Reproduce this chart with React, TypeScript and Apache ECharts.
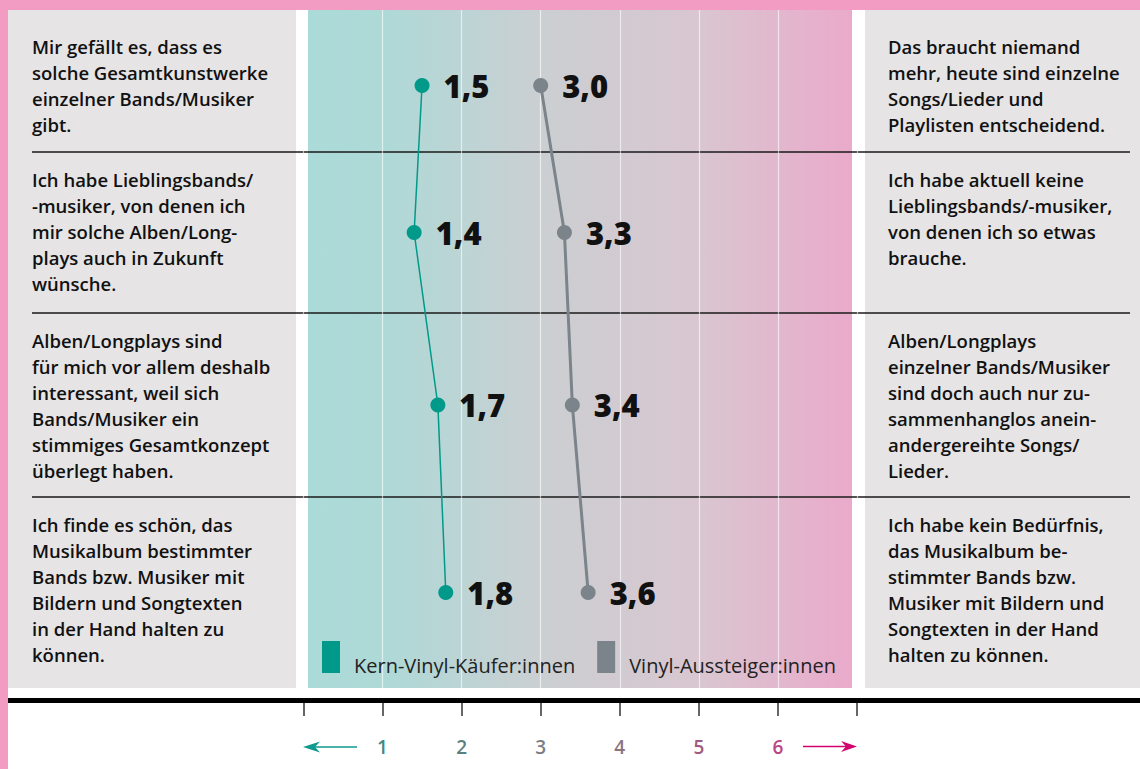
import React, { useEffect, useRef } from "react";
import * as echarts from "echarts";

// ---- Data ----
const leftStatements = [
  "Mir gefällt es, dass es\nsolche Gesamtkunstwerke\neinzelner Bands/Musiker\ngibt.",
  "Ich habe Lieblingsbands/\n-musiker, von denen ich\nmir solche Alben/Long-\nplays auch in Zukunft\nwünsche.",
  "Alben/Longplays sind\nfür mich vor allem deshalb\ninteressant, weil sich\nBands/Musiker ein\nstimmiges Gesamtkonzept\nüberlegt haben.",
  "Ich finde es schön, das\nMusikalbum bestimmter\nBands bzw. Musiker mit\nBildern und Songtexten\nin der Hand halten zu\nkönnen.",
];
const rightStatements = [
  "Das braucht niemand\nmehr, heute sind einzelne\nSongs/Lieder und\nPlaylisten entscheidend.",
  "Ich habe aktuell keine\nLieblingsbands/-musiker,\nvon denen ich so etwas\nbrauche.",
  "Alben/Longplays\neinzelner Bands/Musiker\nsind doch auch nur zu-\nsammenhanglos anein-\nandergereihte Songs/\nLieder.",
  "Ich habe kein Bedürfnis,\ndas Musikalbum be-\nstimmter Bands bzw.\nMusiker mit Bildern und\nSongtexten in der Hand\nhalten zu können.",
];
const seriesNames = ["Kern-Vinyl-Käufer:innen", "Vinyl-Aussteiger:innen"];
const kernValues = [1.5, 1.4, 1.7, 1.8];
const aussteigerValues = [3.0, 3.3, 3.4, 3.6];
const tickLabels = ["", "1", "2", "3", "4", "5", "6", ""];
const tickColors = ["#3d8a85", "#5b7f80", "#7a7e84", "#8b7382", "#a25a7f", "#ba4784"];

// ---- Layout (pixels) ----
const W = 1140;
const H = 769;
const ROW_BOUNDS = [19, 152, 313, 497, 688];
const PANEL_TOP = 10;
const PANEL_BOTTOM = 688;
const AXIS_LEFT = 303.4;
const AXIS_RIGHT = 857.1;
const FONT = "'Open Sans', 'Noto Sans', sans-serif";

export default function App() {
  const ref = useRef<HTMLDivElement>(null);

  useEffect(() => {
    document.body.style.margin = "0";
    if (!ref.current) return;
    const chart = echarts.init(ref.current, null, { renderer: "svg" });

    const rowCenters = ROW_BOUNDS.slice(0, -1).map((b, i) => (b + ROW_BOUNDS[i + 1]) / 2);
    const fmt = (v: number) => v.toFixed(1).replace(".", ",");

    const textStyle = (t: string) => ({
      text: t,
      font: `600 18.5px ${FONT}`,
      lineHeight: 26,
      fill: "#111",
      textVerticalAlign: "top",
    });

    const graphics: any[] = [
      { type: "rect", shape: { x: 0, y: 0, width: W, height: 10 }, style: { fill: "#f39cc3" }, z: -10 },
      { type: "rect", shape: { x: 0, y: 0, width: 8, height: H }, style: { fill: "#f39cc3" }, z: -10 },
      { type: "rect", shape: { x: 8, y: PANEL_TOP, width: 288, height: PANEL_BOTTOM - PANEL_TOP }, style: { fill: "#e6e4e5" }, z: -10 },
      { type: "rect", shape: { x: 865, y: PANEL_TOP, width: W - 865, height: PANEL_BOTTOM - PANEL_TOP }, style: { fill: "#e6e4e5" }, z: -10 },
      {
        type: "rect",
        shape: { x: 308, y: PANEL_TOP, width: 544, height: PANEL_BOTTOM - PANEL_TOP },
        style: {
          fill: new echarts.graphic.LinearGradient(0, 0, 1, 0, [
            { offset: 0, color: "#abdbd8" },
            { offset: 0.14, color: "#aed9d7" },
            { offset: 0.43, color: "#cbcfd2" },
            { offset: 0.72, color: "#d9c6d0" },
            { offset: 1, color: "#eaaacb" },
          ]),
        },
        z: -10,
      },
      ...ROW_BOUNDS.slice(1, -1).map((y) => ({
        type: "line",
        shape: { x1: 32, y1: y, x2: 1130, y2: y },
        style: { stroke: "#1a1a1a", lineWidth: 1.3 },
        z: -5,
      })),
      { type: "rect", shape: { x: 8, y: 698, width: W - 8, height: 5 }, style: { fill: "#000" }, z: -5 },
      // arrows
      { type: "line", shape: { x1: 315, y1: 747, x2: 357, y2: 747 }, style: { stroke: "#0e9a8e", lineWidth: 1.5 }, z: -5 },
      { type: "polygon", shape: { points: [[303, 747], [320, 741.5], [315, 747], [320, 752.5]] }, style: { fill: "#0e9a8e" }, z: -5 },
      { type: "line", shape: { x1: 803, y1: 746.5, x2: 846, y2: 746.5 }, style: { stroke: "#d1046f", lineWidth: 1.5 }, z: -5 },
      { type: "polygon", shape: { points: [[857, 746.5], [841, 741], [846, 746.5], [841, 752]] }, style: { fill: "#d1046f" }, z: -5 },
      ...leftStatements.map((t, i) => ({ type: "text", x: 32, y: ROW_BOUNDS[i] + 14, style: textStyle(t), z: -5 })),
      ...rightStatements.map((t, i) => ({ type: "text", x: 888, y: ROW_BOUNDS[i] + 14, style: textStyle(t), z: -5 })),
    ];

    const mkSeries = (name: string, values: number[], color: string, lw: number) => ({
      name,
      type: "line",
      data: values.map((v, i) => [v, rowCenters[i]]),
      symbol: "circle",
      symbolSize: 15,
      itemStyle: { color },
      lineStyle: { color, width: lw },
      label: {
        show: true,
        position: "right",
        distance: 14,
        formatter: (p: any) => fmt(p.value[0]),
        fontFamily: FONT,
        fontWeight: 800,
        fontSize: 31,
        color: "#111",
      },
      emphasis: { disabled: true },
      z: 3,
    });

    chart.setOption({
      animation: false,
      grid: { left: AXIS_LEFT, right: W - AXIS_RIGHT, top: PANEL_TOP, bottom: H - PANEL_BOTTOM, containLabel: false },
      xAxis: {
        type: "value",
        min: 0,
        max: 7,
        interval: 1,
        position: "bottom",
        offset: 15,
        axisLine: { show: false },
        axisTick: { show: true, length: 13, lineStyle: { color: "#333", width: 1.5 } },
        splitLine: { show: true, lineStyle: { color: "rgba(255,255,255,0.6)", width: 1.2 } },
        axisLabel: {
          margin: 34,
          fontFamily: FONT,
          fontSize: 19,
          fontWeight: 600,
          formatter: (v: number) => tickLabels[Math.round(v)] ?? "",
          color: (v: any) => tickColors[Math.round(Number(v)) - 1] || "#777",
        },
      },
      yAxis: { type: "value", min: PANEL_TOP, max: PANEL_BOTTOM, inverse: true, show: false },
      legend: {
        left: 322,
        top: 641,
        padding: 0,
        icon: "rect",
        itemWidth: 18,
        itemHeight: 32,
        itemGap: 22,
        data: seriesNames,
        formatter: "{t|{name}}",
        textStyle: {
          fontFamily: FONT,
          fontSize: 20,
          color: "#222",
          rich: { t: { fontFamily: FONT, fontSize: 20, color: "#222", padding: [16, 0, 0, 9] } },
        },
        selectedMode: false,
      },
      graphic: graphics,
      series: [
        mkSeries(seriesNames[0], kernValues, "#00998a", 1.5),
        mkSeries(seriesNames[1], aussteigerValues, "#7b848b", 3),
      ],
    });

    return () => chart.dispose();
  }, []);

  return <div ref={ref} style={{ width: W, height: H }} />;
}
